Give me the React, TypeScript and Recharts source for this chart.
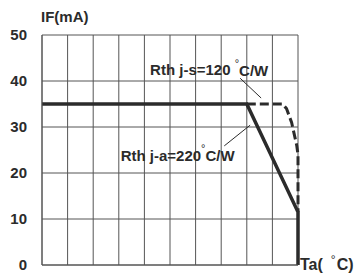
import React from 'react';
import { LineChart, Line, XAxis, YAxis, CartesianGrid, ReferenceLine, ReferenceDot } from 'recharts';

// Ta (°C) / IF (mA) derating curves
const sjaX = [0, 80, 100, 100];
const sjaY = [35, 35, 11.5, 0];
const sjsX = [80, 94, 95.5, 97.5, 99.5, 100, 100];
const sjsY = [35, 35, 34, 31, 26, 24, 11.5];

const xTicks = [0, 10, 20, 30, 40, 50, 60, 70, 80, 90, 100];
const xLabels = [20, 40, 60, 80, 100];
const yTicks = [0, 10, 20, 30, 40, 50];

const jaData = sjaX.map((x, i) => ({ x, y: sjaY[i] }));
const jsData = sjsX.map((x, i) => ({ x, y: sjsY[i] }));

const FONT = '"Liberation Sans", Arial, sans-serif';
const INK = '#2b2b2b';

function Annot({ viewBox, text }: any) {
  const { x, y } = viewBox;
  return (
    <text x={x} y={y} textAnchor="middle" dominantBaseline="central" fontFamily={FONT} fontWeight="bold" fontSize={15} fill={INK}>
      {text}
      <tspan fontWeight="normal" fontSize={11} dy={-7}>°</tspan>
      <tspan dy={7}>C/W</tspan>
    </text>
  );
}

export default function App() {
  return (
    <div style={{ position: 'absolute', left: 0, top: 0, width: 356, height: 273, background: '#fff', fontFamily: FONT }}>
      <LineChart width={356} height={273} margin={{ top: 35, right: 58, bottom: 0, left: 0 }}>
        <CartesianGrid stroke="#555" strokeWidth={1} />
        <XAxis
          type="number"
          dataKey="x"
          domain={[0, 100]}
          ticks={xTicks}
          tickFormatter={(v: number) => (xLabels.includes(v) ? String(v) : '')}
          height={8}
          axisLine={{ stroke: '#555' }}
          tickLine={false}
          tick={{ fill: INK, fontSize: 15, fontWeight: 'bold', fontFamily: FONT }}
          interval={0}
        />
        <YAxis
          type="number"
          domain={[0, 50]}
          ticks={yTicks}
          width={42}
          axisLine={{ stroke: '#555' }}
          tickLine={false}
          tickMargin={9}
          tick={{ fill: INK, fontSize: 15, fontWeight: 'bold', fontFamily: FONT }}
          interval={0}
        />
        <ReferenceLine segment={[{ x: 77.4, y: 40.6 }, { x: 85.6, y: 36.3 }]} stroke={INK} strokeWidth={1} />
        <ReferenceLine segment={[{ x: 71.2, y: 25.9 }, { x: 81.3, y: 30.4 }]} stroke={INK} strokeWidth={1} />
        <Line data={jsData} dataKey="y" type="linear" stroke={INK} strokeWidth={3} strokeDasharray="9 4" dot={false} isAnimationActive={false} />
        <Line data={jaData} dataKey="y" type="linear" stroke={INK} strokeWidth={3.5} dot={false} isAnimationActive={false} />
        <ReferenceDot x={65.3} y={42.4} r={0} fill="none" stroke="none" label={(p: any) => <Annot {...p} text="Rth j-s=120 " />} />
        <ReferenceDot x={53} y={23.9} r={0} fill="none" stroke="none" label={(p: any) => <Annot {...p} text="Rth j-a=220" />} />
      </LineChart>
      <div style={{ position: 'absolute', left: 41, top: 7, fontSize: 15, fontWeight: 'bold', color: INK, lineHeight: '20px' }}>IF(mA)</div>
      <div style={{ position: 'absolute', left: 300, top: 255, fontSize: 16, fontWeight: 'bold', color: INK, lineHeight: '20px', whiteSpace: 'nowrap' }}>
        Ta(<span style={{ fontSize: 12, fontWeight: 'normal', position: 'relative', top: -6, marginLeft: 8, marginRight: 1 }}>°</span>C)
      </div>
    </div>
  );
}
